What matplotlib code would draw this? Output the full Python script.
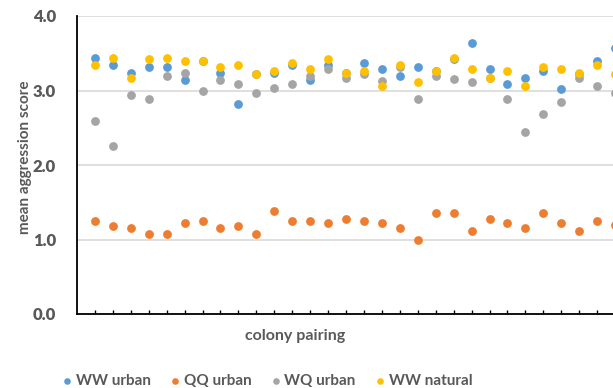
import numpy as np
import matplotlib.pyplot as plt

# colony pairings 1..30
pairing = np.arange(1, 31)

ww_urban = [3.44, 3.34, 3.24, 3.31, 3.31, 3.14, 3.39, 3.24, 2.82, 3.22,
            3.24, 3.34, 3.14, 3.34, 3.24, 3.37, 3.29, 3.19, 3.31, 3.26,
            3.42, 3.64, 3.29, 3.09, 3.17, 3.26, 3.02, 3.22, 3.39, 3.57]
qq_urban = [1.25, 1.18, 1.15, 1.07, 1.07, 1.22, 1.25, 1.15, 1.18, 1.07,
            1.38, 1.25, 1.25, 1.22, 1.27, 1.25, 1.22, 1.15, 1.00, 1.35,
            1.35, 1.12, 1.27, 1.22, 1.15, 1.35, 1.22, 1.12, 1.25, 1.20]
wq_urban = [2.59, 2.25, 2.94, 2.89, 3.19, 3.24, 2.99, 3.14, 3.09, 2.97,
            3.04, 3.09, 3.19, 3.29, 3.17, 3.22, 3.13, 3.31, 2.89, 3.19,
            3.15, 3.12, 3.17, 2.89, 2.44, 2.69, 2.84, 3.17, 3.06, 2.97]
ww_natural = [3.34, 3.44, 3.17, 3.42, 3.44, 3.39, 3.39, 3.32, 3.34, 3.22,
              3.26, 3.37, 3.29, 3.42, 3.24, 3.26, 3.06, 3.34, 3.12, 3.26,
              3.44, 3.29, 3.17, 3.26, 3.06, 3.31, 3.29, 3.24, 3.34, 3.22]

series = [("WW urban", ww_urban, "#5B9BD5"),
          ("QQ urban", qq_urban, "#ED7D31"),
          ("WQ urban", wq_urban, "#A5A5A5"),
          ("WW natural", ww_natural, "#FFC000")]

plt.rcParams['font.family'] = ['Lato', 'DejaVu Sans']
txt = "#595959"

fig = plt.figure(figsize=(6.13, 3.88), dpi=100)
ax = fig.add_axes([77 / 613, 74 / 388, 556 / 613, 298 / 388])

for name, vals, col in series:
    ax.scatter(pairing, vals, s=40, color=col, label=name, zorder=3, linewidths=0)

ax.set_xlim(0, 31)
ax.set_ylim(0, 4)
ax.set_yticks([0, 1, 2, 3, 4])
ax.set_yticklabels(["0.0", "1.0", "2.0", "3.0", "4.0"], fontsize=12,
                   fontweight='heavy', color=txt)
ax.set_xticks(pairing)
ax.set_xticklabels([])
ax.tick_params(axis='x', direction='in', length=3, width=1, color='black')
ax.tick_params(axis='y', length=0, pad=15)
ax.grid(axis='y', color='#D9D9D9', linewidth=1.2, zorder=0)
ax.set_axisbelow(True)
for s in ['top', 'right']:
    ax.spines[s].set_visible(False)
for s in ['left', 'bottom']:
    ax.spines[s].set_color('black')
    ax.spines[s].set_linewidth(1.3)

fig.text(25 / 613, 1 - 157 / 388, "mean aggression score", rotation=90,
         ha='center', va='center', fontsize=11, fontweight='bold', color=txt)
fig.text(295 / 613, 1 - 336 / 388, "colony pairing", ha='center', va='center',
         fontsize=11.5, fontweight='bold', color=txt)

leg = fig.legend(loc='center', bbox_to_anchor=(266 / 613, 1 - 381 / 388), ncol=4,
                 frameon=False, fontsize=11, handletextpad=0.05,
                 columnspacing=1.1, handlelength=1.0, markerscale=0.75)
for t in leg.get_texts():
    t.set_color(txt)
    t.set_fontweight('bold')

fig.savefig("out.png", dpi=100)
